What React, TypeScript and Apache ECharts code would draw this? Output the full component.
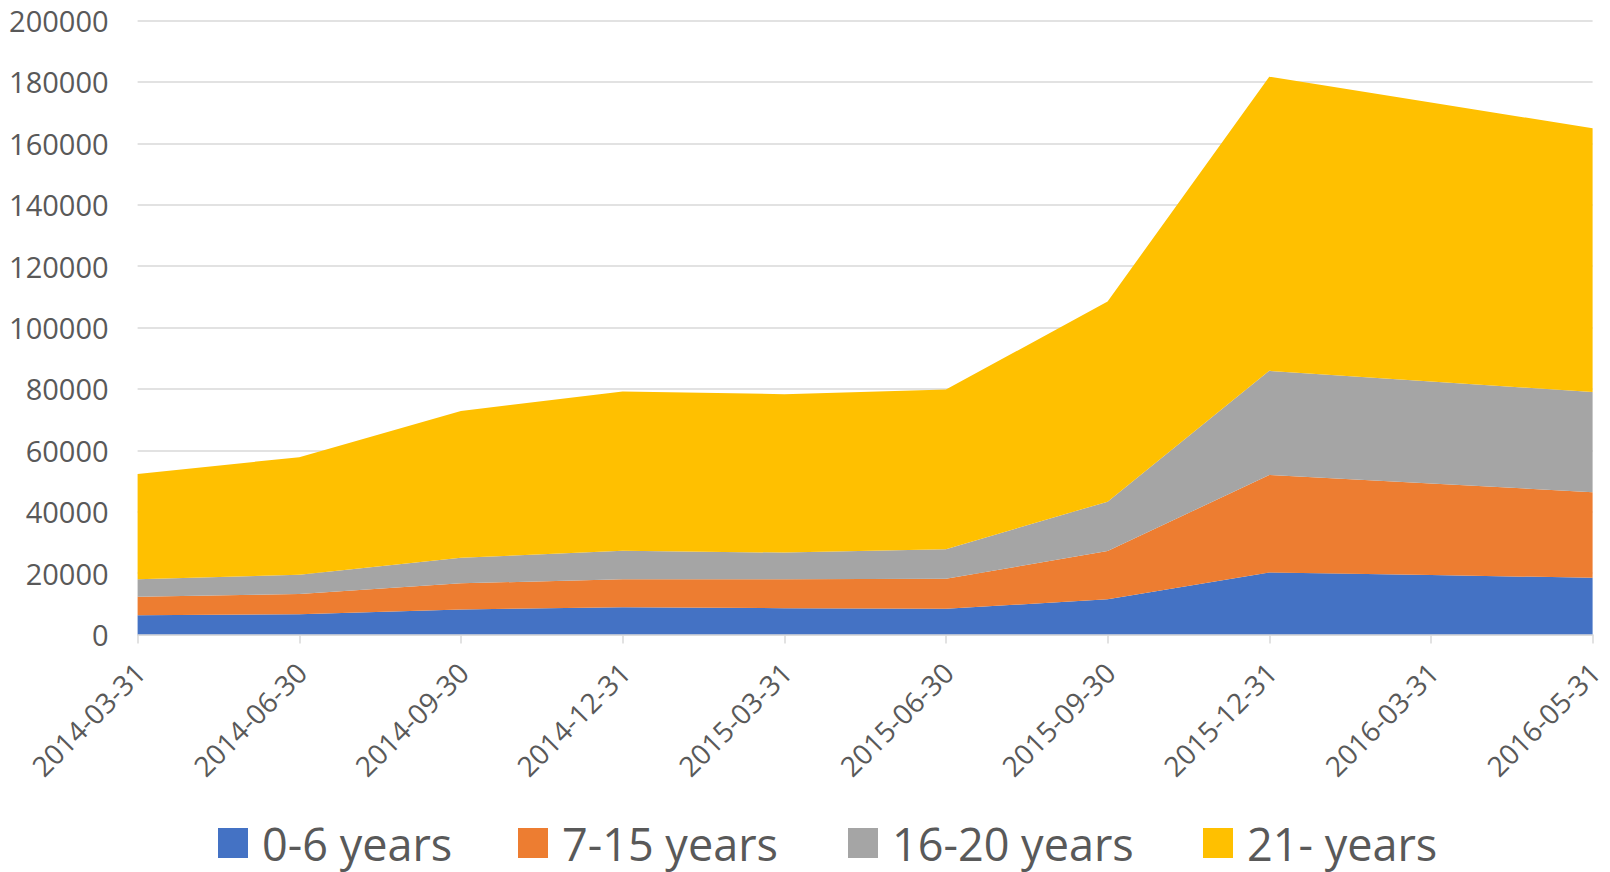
import React, { useEffect, useRef } from "react";
import * as echarts from "echarts";

const categories = [
  "2014-03-31", "2014-06-30", "2014-09-30", "2014-12-31", "2015-03-31",
  "2015-06-30", "2015-09-30", "2015-12-31", "2016-03-31", "2016-05-31",
];
const seriesNames = ["0-6 years", "7-15 years", "16-20 years", "21- years"];
const age0to6 = [6300, 6600, 8200, 8900, 8600, 8400, 11500, 20200, 19400, 18500];
const age7to15 = [6000, 6600, 8500, 9100, 9400, 9800, 15700, 31800, 29800, 27900];
const age16to20 = [5700, 6300, 8300, 9300, 8700, 9600, 16100, 33900, 33200, 32600];
const age21plus = [34300, 38300, 47800, 51900, 51600, 52000, 65200, 95800, 90900, 85900];
const colors = ["#4472C4", "#ED7D31", "#A5A5A5", "#FFC000"];
const yTicks = { min: 0, max: 200000, interval: 20000 };

const FONT = "'Open Sans', sans-serif";
const TXT = "#595959";

export default function App() {
  const ref = useRef<HTMLDivElement>(null);
  useEffect(() => {
    document.body.style.margin = "0";
    const chart = echarts.init(ref.current!, null, { renderer: "svg" });
    const values = [age0to6, age7to15, age16to20, age21plus];
    const legendLefts = [218, 518, 848, 1203];
    chart.setOption({
      animation: false,
      backgroundColor: "#ffffff",
      grid: { left: 137.6, right: 17.4, top: 20.5, bottom: 237.4, containLabel: false },
      legend: seriesNames.map((n, i) => ({
        data: [n],
        left: legendLefts[i],
        top: 812,
        padding: 0,
        itemWidth: 30,
        itemHeight: 30,
        icon: "rect",
        textStyle: { fontSize: 45, color: TXT, fontFamily: FONT, lineHeight: 56, padding: [0, 0, 6, 9] },
      })),
      xAxis: {
        type: "category",
        data: categories,
        boundaryGap: false,
        axisLine: { lineStyle: { color: "#D9D9D9", width: 1.5 } },
        axisTick: { show: true, alignWithLabel: true, length: 9, lineStyle: { color: "#D9D9D9", width: 1.5 } },
        axisLabel: {
          rotate: 45,
          interval: 0,
          margin: 35,
          fontSize: 28,
          color: TXT,
          fontFamily: FONT,
          padding: [0, -3, 0, 0],
        },
      },
      yAxis: {
        type: "value",
        min: yTicks.min,
        max: yTicks.max,
        interval: yTicks.interval,
        axisLine: { show: false },
        axisTick: { show: false },
        splitLine: { lineStyle: { color: "#D9D9D9", width: 1.5 } },
        axisLabel: {
          fontSize: 29,
          color: TXT,
          fontFamily: FONT,
          margin: 29,
          formatter: (v: number) => String(v),
        },
      },
      series: seriesNames.map((n, i) => ({
        name: n,
        type: "line",
        stack: "total",
        data: values[i],
        symbol: "none",
        showSymbol: false,
        lineStyle: { width: 0, color: colors[i] },
        itemStyle: { color: colors[i] },
        areaStyle: { color: colors[i], opacity: 1 },
      })),
    });
    return () => chart.dispose();
  }, []);
  return <div ref={ref} style={{ width: 1610, height: 872 }} />;
}
